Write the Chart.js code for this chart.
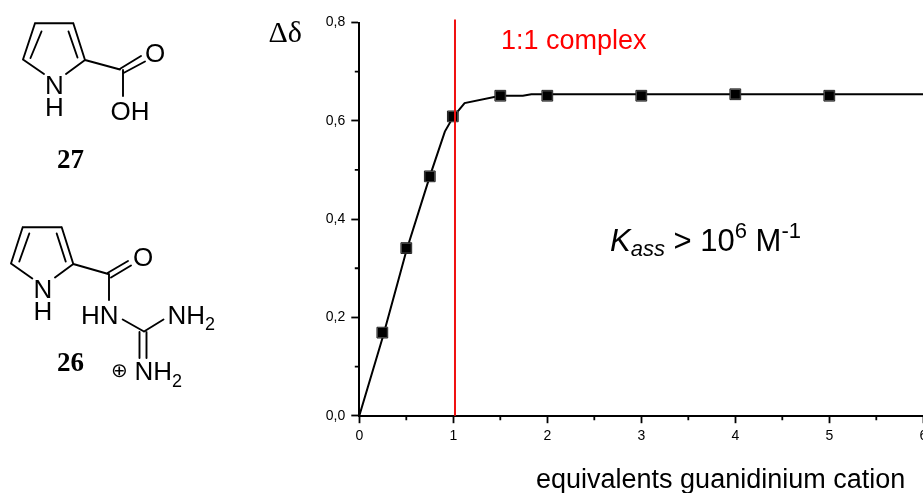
<!DOCTYPE html>
<html><head><meta charset="utf-8">
<style>html,body{margin:0;padding:0;background:#fff;overflow:hidden;width:923px;height:493px}canvas{display:block}</style>
<script src="https://cdn.jsdelivr.net/npm/chart.js@4"></script>
</head><body>
<canvas id="c" width="960" height="493" style="width:960px;height:493px"></canvas>
<script>
const equivalents = [0.245, 0.5, 0.75, 0.995, 1.5, 2, 3, 4, 5];
const deltaShift = [0.169, 0.341, 0.487, 0.609, 0.651, 0.651, 0.651, 0.654, 0.651];
const fitX = [0, 0.25, 0.4, 0.5, 0.75, 0.91, 1, 1.12, 1.5, 1.74, 1.83, 2, 3, 4, 5, 6];
const fitY = [0, 0.16, 0.265, 0.335, 0.487, 0.578, 0.608, 0.636, 0.651, 0.651, 0.654, 0.654, 0.654, 0.654, 0.654, 0.654];
const markerLine = [1.018, 1.018];
const markerSpan = [0, 0.806];
const xTicks = [0, 1, 2, 3, 4, 5, 6];
const yTicks = [0, 0.2, 0.4, 0.6, 0.8];
const xMinor = [0.5, 1.5, 2.5, 3.5, 4.5, 5.5];
const yMinor = [0.1, 0.3, 0.5, 0.7];

const SANS = '"Liberation Sans", Arial, sans-serif';
const SERIF = '"Liberation Serif", "Times New Roman", serif';

function seg(ctx, list) {
  ctx.beginPath();
  for (const [a, b, c, d] of list) { ctx.moveTo(a, b); ctx.lineTo(c, d); }
  ctx.stroke();
}
function txt(ctx, s, x, y, font, color, align) {
  ctx.font = font; ctx.fillStyle = color || '#000'; ctx.textAlign = align || 'left';
  ctx.textBaseline = 'alphabetic'; ctx.fillText(s, x, y);
  return ctx.measureText(s).width;
}
const annotations = {
  id: 'annotations',
  afterDraw(chart) {
    const ctx = chart.ctx, xs = chart.scales.x, ys = chart.scales.y;
    ctx.save();
    // minor ticks
    ctx.strokeStyle = '#000'; ctx.lineWidth = 1.8;
    seg(ctx, xMinor.map(v => [xs.getPixelForValue(v), ys.bottom, xs.getPixelForValue(v), ys.bottom + 4.5]));
    seg(ctx, yMinor.map(v => [xs.left - 4.5, ys.getPixelForValue(v), xs.left, ys.getPixelForValue(v)]));
    // molecule 27
    ctx.lineWidth = 1.9; ctx.lineCap = 'round';
    seg(ctx, [[35,23.3,73.3,23.3],[73.3,23.3,85,60],[85,60,66,74],[44,74,23,59.5],[23,59.5,35,23.3],
      [41.5,31.5,30.5,58],[68.5,31.5,77.5,57.5],[85,60,120,69.5],[120.5,68.5,141,56],[123.5,73,145,61.5],[123,70,123,96]]);
    txt(ctx, 'N', 45, 94, '26px ' + SANS);
    txt(ctx, 'H', 45, 116, '26px ' + SANS);
    txt(ctx, 'O', 145, 62, '26px ' + SANS);
    txt(ctx, 'OH', 110.5, 120, '26px ' + SANS);
    txt(ctx, '27', 57, 168, 'bold 27px ' + SERIF);
    // molecule 26
    seg(ctx, [[22.7,227.3,61.7,227.3],[61.7,227.3,73.3,264],[73.3,264,55,277.5],[32.3,278.5,11,263.5],[11,263.5,22.7,227.3],
      [29.3,233.5,19.3,261.5],[56.7,233.5,65.7,261.5],[73.3,264,108.3,274],[107.5,273,128,261],[111,277.5,131,265.5],[109,274,109,300],
      [122.7,319.5,144,331.5],[144,331.5,163.5,319.5],[139.5,332,139.5,358],[146.5,332,146.5,358]]);
    txt(ctx, 'N', 33.5, 298, '26px ' + SANS);
    txt(ctx, 'H', 33.5, 320, '26px ' + SANS);
    txt(ctx, 'O', 133, 266, '26px ' + SANS);
    txt(ctx, 'HN', 81, 324, '26px ' + SANS);
    let w = txt(ctx, 'NH', 167.5, 324, '26px ' + SANS);
    txt(ctx, '2', 167.5 + w, 330, '18px ' + SANS);
    w = txt(ctx, 'NH', 134.5, 380, '26px ' + SANS);
    txt(ctx, '2', 134.5 + w, 386.5, '18px ' + SANS);
    txt(ctx, '\u2295', 111, 377, '20px "DejaVu Sans"');
    txt(ctx, '26', 57, 370.5, 'bold 27px ' + SERIF);
    // axis and panel text
    txt(ctx, '\u0394\u03B4', 268.5, 42, '30px ' + SERIF);
    txt(ctx, '1:1 complex', 501, 49, '27px ' + SANS, '#ff0000');
    txt(ctx, 'equivalents guanidinium cation', 536, 488, '27px ' + SANS);
    let x = 610;
    x += txt(ctx, 'K', x, 250.5, 'italic 31px ' + SANS);
    x += txt(ctx, 'ass', x, 255.5, 'italic 22px ' + SANS);
    x += txt(ctx, ' > 10', x, 250.5, '31px ' + SANS);
    x += txt(ctx, '6', x, 238, '22px ' + SANS);
    x += txt(ctx, ' M', x, 250.5, '31px ' + SANS);
    txt(ctx, '-1', x, 238, '22px ' + SANS);
    ctx.restore();
  }
};

new Chart(document.getElementById('c'), {
  type: 'scatter',
  data: { datasets: [
    { data: markerLine.map((v, i) => ({ x: v, y: markerSpan[i] })), showLine: true, borderColor: '#f01010', borderWidth: 2, pointRadius: 0, clip: false, order: 0 },
    { data: equivalents.map((v, i) => ({ x: v, y: deltaShift[i] })), showLine: false, pointStyle: 'rect', pointRadius: 6.5, pointBackgroundColor: '#000', pointBorderWidth: 0, order: 1 },
    { data: equivalents.map((v, i) => ({ x: v, y: deltaShift[i] })), showLine: false, pointStyle: 'rect', pointRadius: 7.6, pointBackgroundColor: '#999', pointBorderColor: '#222', pointBorderWidth: 1, order: 2 },
    { data: fitX.map((v, i) => ({ x: v, y: fitY[i] })), showLine: true, borderColor: '#000', borderWidth: 2, pointRadius: 0, order: 3 }
  ] },
  options: {
    responsive: false, animation: false, events: [],
    layout: { padding: { left: 0, right: 36.7, top: 22.5, bottom: 0 } },
    plugins: { legend: { display: false }, tooltip: { enabled: false } },
    scales: {
      x: {
        type: 'linear', min: 0, max: 6,
        afterBuildTicks: s => { s.ticks = xTicks.map(v => ({ value: v })); },
        afterFit: s => { s.height = 77.3; },
        border: { color: '#000', width: 2 },
        grid: { drawOnChartArea: false, drawTicks: true, tickLength: 7.5, color: '#000', tickWidth: 1.8 },
        ticks: { color: '#000', font: { family: SANS, size: 14 }, padding: 5, maxRotation: 0, callback: v => String(v) }
      },
      y: {
        type: 'linear', min: 0, max: 0.8,
        afterBuildTicks: s => { s.ticks = yTicks.map(v => ({ value: v })); },
        afterFit: s => { s.width = 359.3; },
        border: { color: '#000', width: 2 },
        grid: { drawOnChartArea: false, drawTicks: true, tickLength: 8, color: '#000', tickWidth: 1.8 },
        ticks: { color: '#000', font: { family: SANS, size: 14 }, padding: 6, callback: v => v.toFixed(1).replace('.', ',') }
      }
    }
  },
  plugins: [annotations]
});
</script>
</body></html>
